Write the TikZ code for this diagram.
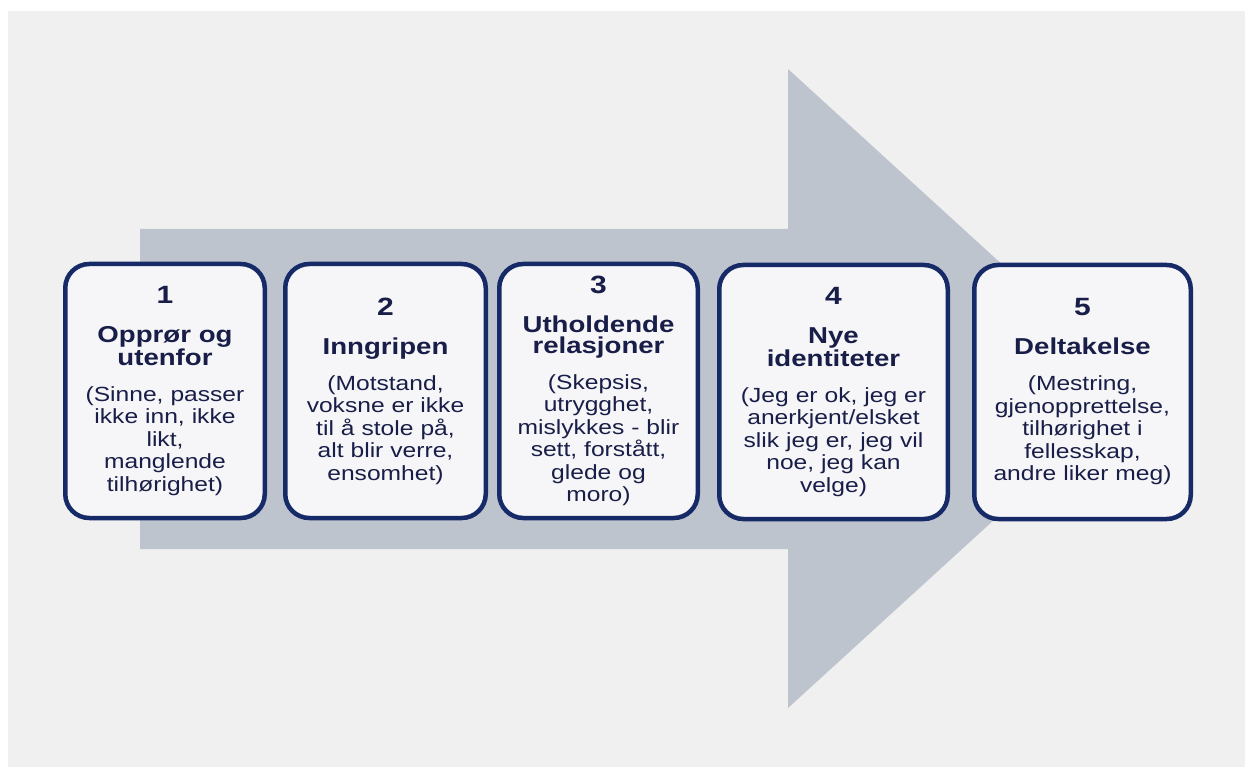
\documentclass[tikz,border=0pt]{standalone}
\usepackage{fontspec}
\setmainfont{Liberation Sans}[FakeStretch=1.2]
\usepackage{xcolor}
\definecolor{stageNavy}{RGB}{22, 42, 104}
\definecolor{textNavy}{RGB}{24, 30, 72}
\definecolor{arrowGrey}{RGB}{190, 196, 206}
\definecolor{paperGrey}{RGB}{240, 240, 240}
\definecolor{boxWhite}{RGB}{246, 246, 248}
\usepackage{tikz}
\usetikzlibrary{positioning,shapes,backgrounds}

\newcommand{\stagenum}{\fontsize{25}{25}\selectfont\bfseries}
\newcommand{\stagetitle}{\fontsize{23}{21}\selectfont\bfseries\spaceskip=0.34em\relax}
\newcommand{\stagebody}{\fontsize{20.5}{22.5}\selectfont\mdseries\spaceskip=0.34em\relax}

\tikzset{
  stage/.style={draw=stageNavy, line width=4.5pt, fill=boxWhite, rounded corners=24pt,
    text width=#1, minimum height=254pt, inner sep=6pt, align=center, text=textNavy}
}

\begin{document}
\begin{tikzpicture}[x=1pt, y=-1pt]
% page and big arrow
\fill[white] (0,0) rectangle (1245,767);
\fill[paperGrey] (8,11) rectangle (1245,767);
\useasboundingbox (0,0) rectangle (1245,767);
\fill[arrowGrey] (140,229) -- (788,229) -- (788,69) -- (1138,388.5) -- (788,708) -- (788,549) -- (140,549) -- cycle;

% stages
\node[stage=187.5pt] (oppror) at (165,391) {\stagenum 1\par\vspace{18pt}
\stagetitle Opprør og\\ utenfor\par\vspace{13.5pt}
\stagebody (Sinne, passer\\ ikke inn, ikke\\ likt,\\ manglende\\ tilhørighet)\par};
\node[stage=188.5pt] (inngripen) at (385.5,391) {\stagenum 2\par\vspace{18pt}
\stagetitle Inngripen\par\vspace{13.5pt}
\stagebody (Motstand,\\ voksne er ikke\\ til å stole på,\\ alt blir verre,\\ ensomhet)\par};
\node[stage=186.5pt] (relasjoner) at (598.5,391) {\stagenum 3\par\vspace{18pt}
\stagetitle Utholdende\\ relasjoner\par\vspace{13.5pt}
\stagebody (Skepsis,\\ utrygghet,\\ mislykkes - blir\\ sett, forstått,\\ glede og\\ moro)\par};
\node[stage=216.5pt] (identiteter) at (833.5,392) {\stagenum 4\par\vspace{18pt}
\stagetitle Nye\\ identiteter\par\vspace{13.5pt}
\stagebody (Jeg er ok, jeg er\\ anerkjent/elsket\\ slik jeg er, jeg vil\\ noe, jeg kan\\ velge)\par};
\node[stage=204.5pt] (deltakelse) at (1082.5,392) {\stagenum 5\par\vspace{18pt}
\stagetitle Deltakelse\par\vspace{13.5pt}
\stagebody (Mestring,\\ gjenopprettelse,\\ tilhørighet i\\ fellesskap,\\ andre liker meg)\par};
\end{tikzpicture}
\end{document}
